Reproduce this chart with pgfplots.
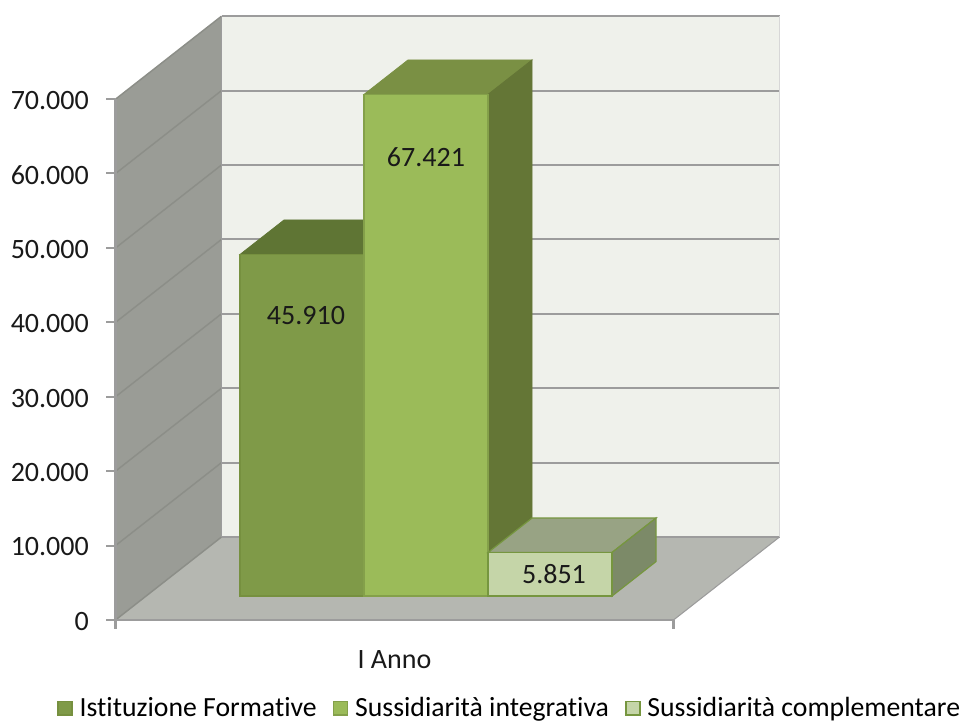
\documentclass[border=0pt]{standalone}
\usepackage{pgfplots}
\pgfplotsset{compat=1.18}
\usepackage{fontspec}
\setmainfont[Ligatures=NoCommon]{Carlito}
\definecolor{wallback}{HTML}{EFF1EB}
\definecolor{wallleft}{HTML}{9A9C96}
\definecolor{floorc}{HTML}{B5B7B1}
\definecolor{gridc}{HTML}{9C9C9C}
\definecolor{gridd}{HTML}{8C8E88}
\definecolor{aF}{HTML}{7F9A48}
\definecolor{aT}{HTML}{5F7534}
\definecolor{aE}{HTML}{76903F}
\definecolor{bF}{HTML}{9BBB59}
\definecolor{bT}{HTML}{7A9044}
\definecolor{bS}{HTML}{647636}
\definecolor{bE}{HTML}{84A04A}
\definecolor{cF}{HTML}{C5D5A8}
\definecolor{cT}{HTML}{98A384}
\definecolor{cS}{HTML}{7C8A68}
\definecolor{cE}{HTML}{76963F}
\begin{document}
\begin{tikzpicture}
\useasboundingbox (0,0) rectangle (723.75pt,541.5pt);
\begin{axis}[
  at={(86.625pt,76.5pt)},anchor=origin,
  hide axis,clip=false,
  x={(0.75pt,0pt)},y={(79.5pt,62.25pt)},z={(0pt,0.005582pt)},
  xmin=0,xmax=558,ymin=0,ymax=1,zmin=0,zmax=70000,
]
% back wall
\addplot3[fill=wallback,draw=none] coordinates {(0,1,0) (558,1,0) (558,1,70000) (0,1,70000)} -- cycle;
% left wall
\addplot3[fill=wallleft,draw=none] coordinates {(0,0,0) (0,1,0) (0,1,70000) (0,0,70000)} -- cycle;
% floor
\addplot3[fill=floorc,draw=none] coordinates {(0,0,0) (558,0,0) (558,1,0) (0,1,0)} -- cycle;
% grid
\pgfplotsinvokeforeach{0,10000,20000,30000,40000,50000,60000,70000}{
  \addplot3[draw=gridc,line width=1.6pt] coordinates {(0,1,#1) (558,1,#1)};
  \addplot3[draw=gridd,line width=1.1pt] coordinates {(0,0,#1) (0,1,#1)};
}
\addplot3[draw=gridc,line width=0.8pt] coordinates {(0,1,0) (0,1,70000)};
\addplot3[draw=gridc!40!white,line width=0.5pt] coordinates {(558,1,0) (558,1,70000)};
\addplot3[draw=gridc,line width=0.8pt] coordinates {(558,0,0) (558,1,0)};
% bar 1
\addplot3[fill=aT,draw=aT,line width=0.6pt] coordinates {(93.9,0.289,45910) (217.9,0.289,45910) (217.9,0.704,45910) (93.9,0.704,45910)} -- cycle;
\addplot3[fill=aF,draw=aE,line width=0.9pt] coordinates {(93.9,0.289,0) (217.9,0.289,0) (217.9,0.289,45910) (93.9,0.289,45910)} -- cycle;
% bar 2
\addplot3[fill=bT,draw=bT,line width=0.6pt] coordinates {(217.9,0.289,67421) (341.9,0.289,67421) (341.9,0.704,67421) (217.9,0.704,67421)} -- cycle;
\addplot3[fill=bS,draw=bS,line width=0.6pt] coordinates {(341.9,0.289,0) (341.9,0.704,0) (341.9,0.704,67421) (341.9,0.289,67421)} -- cycle;
\addplot3[fill=bF,draw=bE,line width=0.9pt] coordinates {(217.9,0.289,0) (341.9,0.289,0) (341.9,0.289,67421) (217.9,0.289,67421)} -- cycle;
% bar 3
\addplot3[fill=cT,draw=cE,line width=0.9pt] coordinates {(341.9,0.289,5851) (465.9,0.289,5851) (465.9,0.704,5851) (341.9,0.704,5851)} -- cycle;
\addplot3[fill=cS,draw=cE,line width=0.9pt] coordinates {(465.9,0.289,0) (465.9,0.704,0) (465.9,0.704,5851) (465.9,0.289,5851)} -- cycle;
\addplot3[fill=cF,draw=cE,line width=0.9pt] coordinates {(341.9,0.289,0) (465.9,0.289,0) (465.9,0.289,5851) (341.9,0.289,5851)} -- cycle;
\end{axis}
\begin{axis}[
  at={(86.625pt,76.5pt)},anchor=origin,
  scale only axis,width=418.5pt,height=390.75pt,
  xmin=0,xmax=558,ymin=0,ymax=70000,clip=false,
  axis x line=bottom,axis y line=left,
  axis line style={-,draw=gridc,line width=1.6pt},
  tick style={draw=gridc,line width=1.6pt},
  tick align=outside,
  major tick length=6.5pt,
  ytick={0,10000,20000,30000,40000,50000,60000,70000},
  y tick label style={xshift=-10pt,yshift=-1pt,/pgf/number format/1000 sep={.},/pgf/number format/assume math mode=true},
  scaled y ticks=false,
  tick label style={font=\fontsize{21}{24}\selectfont,text=black!90},
  xtick={0,558},xticklabels={,},
  xlabel={I Anno},
  xlabel style={font=\fontsize{21}{24}\selectfont,text=black!90,at={(axis description cs:0.5,-0.05)},anchor=north},
  legend columns=3,
  legend image code/.code={\draw[#1,line width=1.3pt] (0pt,-5pt) rectangle (10.5pt,5pt);},
  legend style={at={(0.707,-0.169)},anchor=center,draw=none,fill=none,
    font=\fontsize{20.8}{24}\selectfont,inner sep=0pt,
    /tikz/every even column/.append style={column sep=10pt},
    /tikz/every odd column/.append style={column sep=3pt}},
]
\addlegendimage{fill=aF,draw=aE}
\addlegendentry{Istituzione Formative}
\addlegendimage{fill=bF,draw=bE}
\addlegendentry{Sussidiarità integrativa}
\addlegendimage{fill=cF,draw=cE}
\addlegendentry{Sussidiarità complementare}
\addplot[draw=gridc,line width=1.6pt,forget plot] coordinates {(0,0) (0,70000)};
\pgfplotsinvokeforeach{0,10000,20000,30000,40000,50000,60000,70000}{
  \addplot[draw=gridc,line width=1.6pt,forget plot] coordinates {(-9,#1) (0,#1)};
}
\node[font=\fontsize{21}{24}\selectfont,text=black!90] at (axis cs:190.5,40845) {45.910};
\node[font=\fontsize{21}{24}\selectfont,text=black!90] at (axis cs:310.5,62150) {67.421};
\node[font=\fontsize{21}{24}\selectfont,text=black!90] at (axis cs:438.5,6180) {5.851};
\end{axis}
\end{tikzpicture}
\end{document}
